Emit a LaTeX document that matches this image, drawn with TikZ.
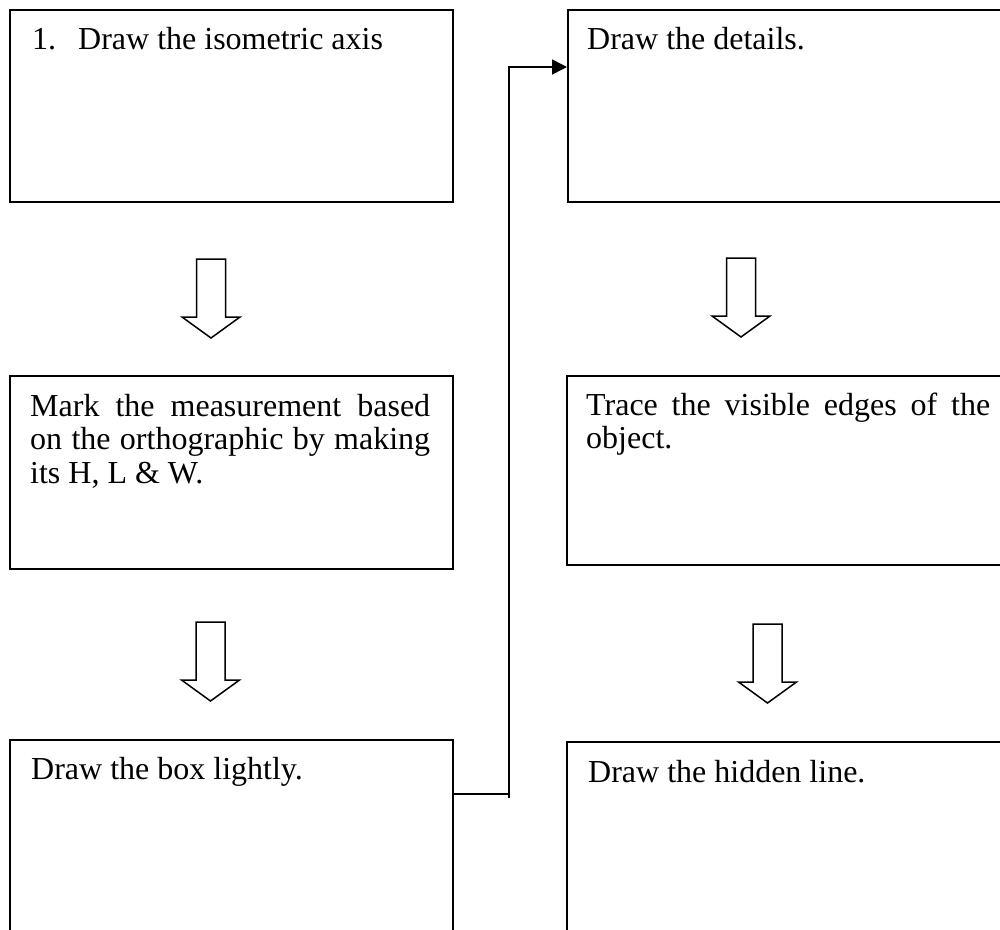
\documentclass[tikz,border=0pt]{standalone}
\usepackage{fontspec}
\setmainfont{Liberation Serif}
\usetikzlibrary{calc,arrows.meta}
\begin{document}
\begin{tikzpicture}[x=1pt,y=-1pt,
  stepbox/.style={draw,line width=1.8pt,inner sep=0pt,anchor=north west,minimum width=443pt},
  steptext/.style={anchor=base west,inner sep=0pt,font=\fontsize{32pt}{33.5pt}\selectfont},
  steppara/.style={steptext,text width=#1,align=justify},
  link/.style={line width=1.5pt},
  blockarrow/.style={line width=1.5pt,line join=miter},
  downarrow/.pic={\draw[blockarrow] (-14.5,0) -- (14.5,0) -- (14.5,58) -- (29,58)
      -- (0,79) -- (-29,58) -- (-14.5,58) -- cycle;}]
\useasboundingbox (0,0) rectangle (1000,929);
\clip (0,0) rectangle (1000,929);

% left column of steps
\node[stepbox,minimum height=192pt] (L1) at (9,9) {};
\node[stepbox,minimum height=193pt] (L2) at (9,375) {};
\node[stepbox,minimum height=300pt] (L3) at (9,739) {};

% right column of steps
\node[stepbox,minimum height=192pt] (R1) at (567,9) {};
\node[stepbox,minimum height=189pt] (R2) at (566,375) {};
\node[stepbox,minimum height=300pt] (R3) at (566,741) {};

% step texts
\node[steptext] (t1) at ($(L1.north west)+(23,40)$) {\makebox[46pt][l]{1.}Draw the isometric axis};
\node[steppara=400pt] (t2) at ($(L2.north west)+(21,41)$)
  {\hyphenpenalty=10000 Mark the measurement based\linebreak on the orthographic by making\linebreak its H, L \& W.};
\node[steptext] (t3) at ($(L3.north west)+(22,40)$) {Draw the box lightly.};
\node[steptext] (t4) at ($(R1.north west)+(20,40)$) {Draw the details.};
\node[steppara=404pt] (t5) at ($(R2.north west)+(20,40)$)
  {\hyphenpenalty=10000 Trace the visible edges of the\linebreak object.};
\node[steptext] (t6) at ($(R3.north west)+(22,41)$) {Draw the hidden line.};

% hollow block arrows between steps
\pic at (211,259) {downarrow};
\pic at (210.5,622) {downarrow};
\pic at (741,258) {downarrow};
\pic at (767.5,624) {downarrow};

% connector from the left column to the top of the right column
\coordinate (jog) at (509,0);
\coordinate (c1) at ($(L3.north east)+(0,55)$);
\coordinate (c2) at ($(R1.north west)+(0,58)$);
\draw[link] (c1) -- (c1 -| jog);
\draw[link,-{Triangle[length=15pt,width=15pt]}] ($(c1 -| jog)+(0,4)$) |- (c2);
\end{tikzpicture}
\end{document}
